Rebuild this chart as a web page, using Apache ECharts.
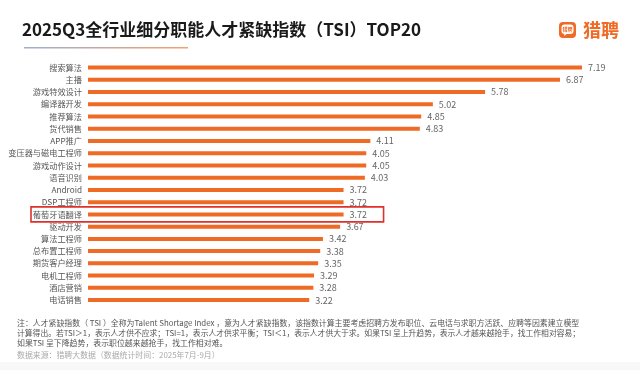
<!DOCTYPE html>
<html>
<head>
<meta charset="utf-8">
<script src="https://cdn.jsdelivr.net/npm/echarts@6/dist/echarts.min.js"></script>
<style>
html,body{margin:0;padding:0;background:#fff;}
#chart{width:640px;height:370px;}
</style>
</head>
<body>
<div id="chart"></div>
<script>
var categories = ['搜索算法','主播','游戏特效设计','编译器开发','推荐算法','货代销售','APP推广','变压器与磁电工程师','游戏动作设计','语音识别','Android','DSP工程师','葡萄牙语翻译','驱动开发','算法工程师','总布置工程师','期货客户经理','电机工程师','酒店营销','电话销售'];
var values = [7.19,6.87,5.78,5.02,4.85,4.83,4.11,4.05,4.05,4.03,3.72,3.72,3.72,3.67,3.42,3.38,3.35,3.29,3.28,3.22];
var highlight = '葡萄牙语翻译';
var titleText = '2025Q3全行业细分职能人才紧缺指数（TSI）TOP20';
var noteLines = [
  '注：人才紧缺指数（ TSI ）全称为Talent Shortage Index ，意为人才紧缺指数，该指数计算主要考虑招聘方发布职位、云电话与求职方活跃、应聘等因素建立模型',
  '计算得出。若TSI＞1，表示人才供不应求；TSI=1，表示人才供求平衡；TSI＜1，表示人才供大于求。如果TSI 呈上升趋势，表示人才越来越抢手，找工作相对容易；',
  '如果TSI 呈下降趋势，表示职位越来越抢手，找工作相对难。'
];
var sourceText = '数据来源：猎聘大数据（数据统计时间：2025年7月-9月）';

var FONT = '"Noto Sans CJK SC","Noto Sans",sans-serif';
var ORANGE = '#EF6A24';
var chart = echarts.init(document.getElementById('chart'));

var graphics = [
  {type:'text', left:22, top:21, style:{text:titleText, font:'bold 17px ' + FONT, fill:'#1a1a1a'}},
  {type:'rect', shape:{x:24, y:47, width:164, height:1.5},
   style:{fill:new echarts.graphic.LinearGradient(0,0,1,0,[{offset:0,color:'#9fb0d0'},{offset:1,color:'#f2a06e'}])}},
  {type:'rect', shape:{x:559, y:22, width:17, height:16, r:4}, style:{fill:ORANGE}},
  {type:'rect', shape:{x:561.5, y:24.5, width:12, height:9.5, r:3}, style:{fill:'#fff'}},
  {type:'polygon', shape:{points:[[564,33.5],[567,33.5],[564.5,36]]}, style:{fill:'#fff'}},
  {type:'text', x:567.5, y:29.5, style:{text:'猎聘', font:'bold 5px ' + FONT, fill:ORANGE, align:'center', verticalAlign:'middle'}},
  {type:'text', x:583, y:30, style:{text:'猎聘', font:'bold 18px ' + FONT, fill:ORANGE, verticalAlign:'middle'}},
  {type:'rect', shape:{x:0, y:362, width:640, height:8}, style:{fill:'#f8f8f8'}}
];
var noteY = [323, 333, 343];
var noteSize = [7.9, 7.8, 7.9];
noteLines.forEach(function(t, i){
  graphics.push({type:'text', x:17, y:noteY[i], style:{text:t, font:noteSize[i] + 'px ' + FONT, fill:'#555', verticalAlign:'middle'}});
});
graphics.push({type:'text', x:17, y:355, style:{text:sourceText, font:'7.9px ' + FONT, fill:'#aaa', verticalAlign:'middle'}});

chart.setOption({
  animation:false,
  backgroundColor:'#fff',
  grid:{left:88, right:2.4, top:61.4, height:244.8, containLabel:false},
  xAxis:{type:'value', min:0, max:8, show:false},
  yAxis:{type:'category', data:categories, inverse:true,
    axisLine:{show:false}, axisTick:{show:false},
    axisLabel:{fontSize:8.2, color:'#555', fontFamily:FONT, margin:6}},
  series:[{type:'bar', data:values, barWidth:4, itemStyle:{color:ORANGE},
    label:{show:true, position:'right', distance:6, fontSize:9, color:'#666', fontFamily:FONT,
      formatter:function(p){return p.value.toFixed(2);}}}],
  graphic:graphics
});

var idx = categories.indexOf(highlight);
var cy = chart.convertToPixel({yAxisIndex:0}, highlight);
var vx = chart.convertToPixel({xAxisIndex:0}, values[idx]);
graphics.push({type:'rect', shape:{x:31, y:cy-7.5, width:(vx+40)-31, height:15},
  style:{fill:'none', stroke:'#e0302a', lineWidth:1.6}});
chart.setOption({graphic:graphics});
</script>
</body>
</html>
